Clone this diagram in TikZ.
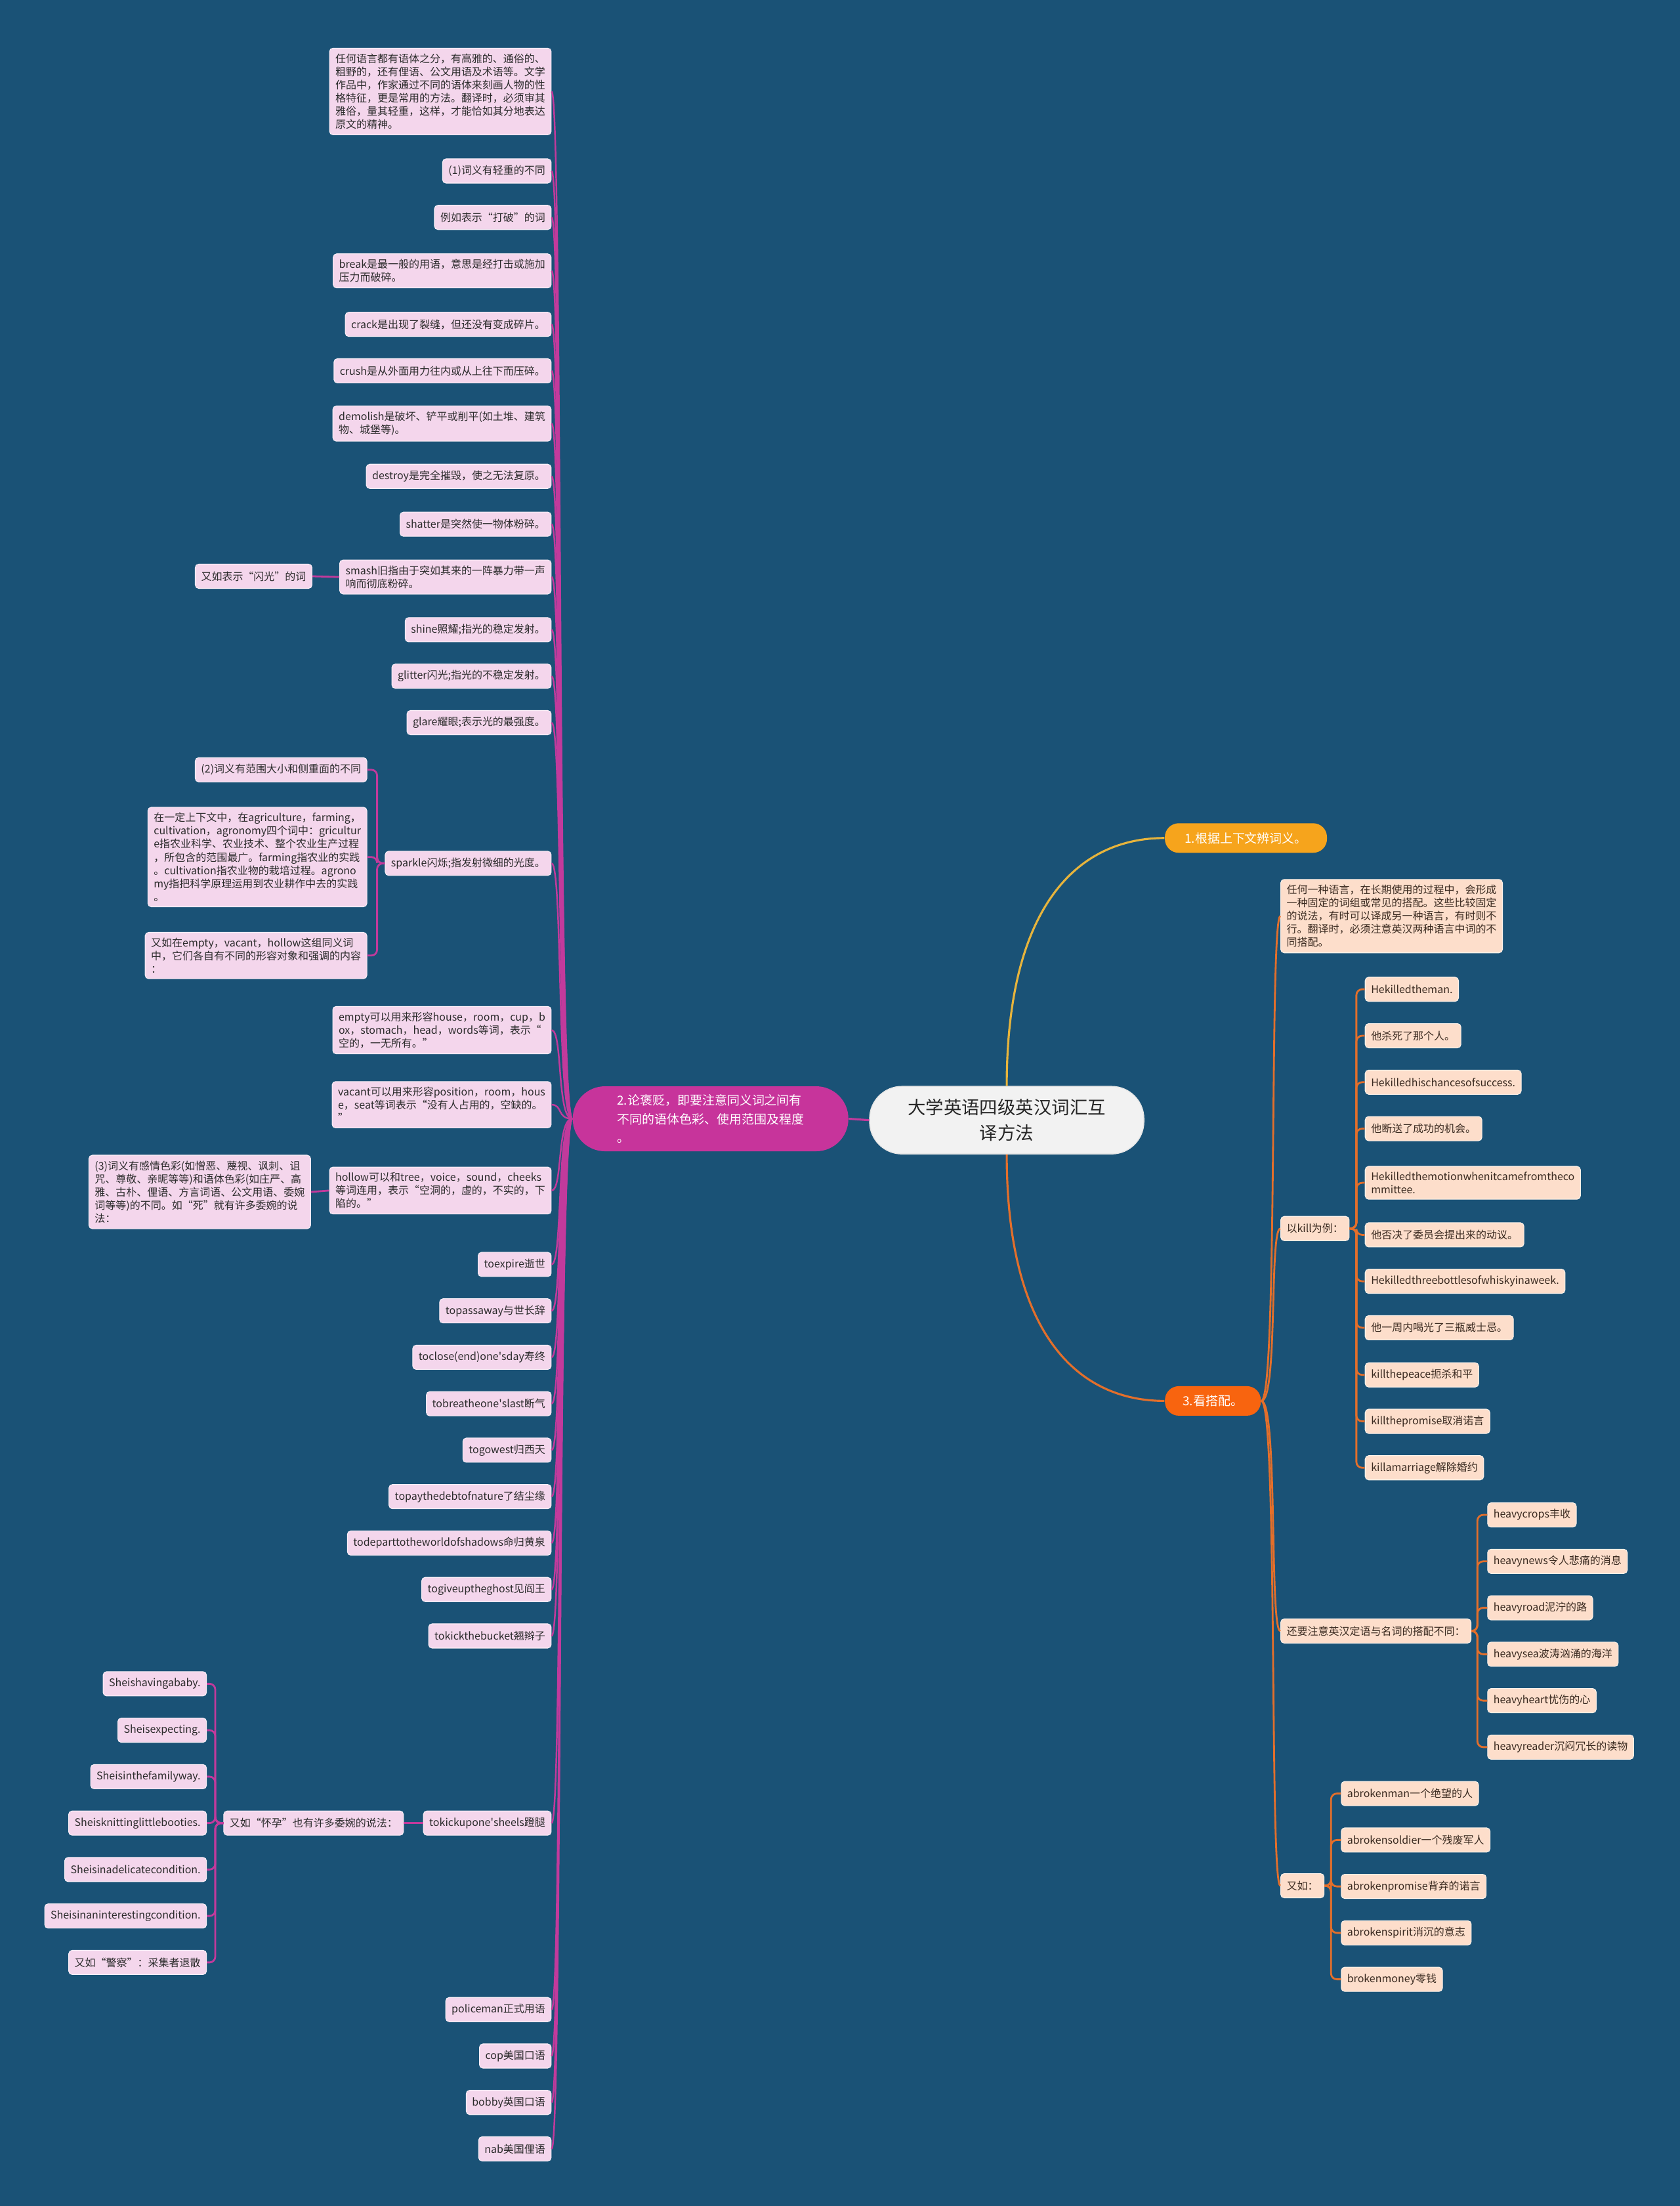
\documentclass[tikz,border=0pt]{standalone}
\usepackage{fontspec}
\setmainfont{Noto Sans CJK SC}
\newfontfamily\apofont{Noto Sans CJK SC}
\newcommand\apo{{\apofont\symbol{39}}}
\usetikzlibrary{calc}
\definecolor{bg}{HTML}{1A5276}
\definecolor{lpink}{HTML}{F4D6EC}
\definecolor{ltext}{HTML}{2B2B2B}
\definecolor{mag}{HTML}{C7349B}
\definecolor{magline}{HTML}{C23A9C}
\definecolor{peach}{HTML}{FDDECB}
\definecolor{rtext}{HTML}{3A2A20}
\definecolor{orline}{HTML}{E36F2B}
\definecolor{ornode}{HTML}{F8640F}
\definecolor{gold}{HTML}{F6A41C}
\definecolor{goldline}{HTML}{E7B43C}
\definecolor{centerfill}{HTML}{F2F2F2}
\begin{document}
\begin{tikzpicture}[x=0.021441cm,y=-0.021441cm,
 leafbase/.style={rounded corners=1.5pt, inner xsep=0.09cm, inner ysep=0.085cm, minimum height=0.37cm, align=left, font=\fontsize{4.55pt}{5.7pt}\selectfont},
 lleaf/.style={leafbase, fill=lpink, draw=white!60!lpink, line width=0.3pt, text=ltext, anchor=east},
 rleaf/.style={leafbase, fill=peach, draw=white!60!peach, line width=0.3pt, text=rtext, anchor=west},
 mcurve/.style={draw=magline, line width=0.7pt},
 melbow/.style={draw=magline, line width=0.8pt, rounded corners=2.5pt},
 ocurve/.style={draw=orline, line width=0.8pt},
 oelbow/.style={draw=orline, line width=0.8pt, rounded corners=2.5pt},
 mainfont/.style={font=\fontsize{5.4pt}{8.2pt}\selectfont}
]
\useasboundingbox (0,0) rectangle (1194,1567.6);
\fill[bg] (0,0) rectangle (1194,1567.6);

% center and main branches
\node[fill=centerfill, draw=white!80!gray, line width=0.4pt, rounded corners=14pt, minimum width=4.18cm, minimum height=1.03cm, align=center, text=black!85, font=\fontsize{7.8pt}{11pt}\selectfont] (c) at (715.5,796) {大学英语四级英汉词汇互\\译方法};
\node[fill=mag, rounded corners=14pt, minimum width=4.2cm, minimum height=0.99cm, align=left, text=white, mainfont] (n2) at (505,795) {2.论褒贬，即要注意同义词之间有\\不同的语体色彩、使用范围及程度\\。};
\node[fill=gold, rounded corners=6pt, minimum width=2.47cm, minimum height=0.45cm, text=white, mainfont] (n1) at (885.5,595.5) {1.根据上下文辨词义。};
\node[fill=ornode, rounded corners=6pt, minimum width=1.46cm, minimum height=0.45cm, text=white, mainfont] (n3) at (862,995.5) {3.看搭配。};

\draw[draw=goldline, line width=0.9pt] (c.north) .. controls +(0,-130) and +(-60,0) .. (n1.west);
\draw[draw=orline, line width=0.9pt] (c.south) .. controls +(0,130) and +(-60,0) .. (n3.west);
\draw[draw=magline, line width=0.9pt] (c.west) -- (n2.east);

% left children
\node[lleaf] (p1) at (392,65) {任何语言都有语体之分，有高雅的、通俗的、\\粗野的，还有俚语、公文用语及术语等。文学\\作品中，作家通过不同的语体来刻画人物的性\\格特征，更是常用的方法。翻译时，必须审其\\雅俗，量其轻重，这样，才能恰如其分地表达\\原文的精神。};
\node[lleaf] (l2) at (392,121.5) {(1)词义有轻重的不同};
\node[lleaf] (l3) at (392,154.5) {例如表示“打破”的词};
\node[lleaf] (l4) at (392,192.5) {break是最一般的用语，意思是经打击或施加\\压力而破碎。};
\node[lleaf] (l5) at (392,230.5) {crack是出现了裂缝，但还没有变成碎片。};
\node[lleaf] (l6) at (392,263.5) {crush是从外面用力往内或从上往下而压碎。};
\node[lleaf] (l7) at (392,301) {demolish是破坏、铲平或削平(如土堆、建筑\\物、城堡等)。};
\node[lleaf] (l8) at (392,338.5) {destroy是完全摧毁，使之无法复原。};
\node[lleaf] (l9) at (392,372.5) {shatter是突然使一物体粉碎。};
\node[lleaf] (l10) at (392,410) {smash旧指由于突如其来的一阵暴力带一声\\响而彻底粉碎。};
\node[lleaf] (l11) at (392,447.5) {shine照耀;指光的稳定发射。};
\node[lleaf] (l12) at (392,480.5) {glitter闪光;指光的不稳定发射。};
\node[lleaf] (l13) at (392,513.5) {glare耀眼;表示光的最强度。};
\node[lleaf] (l14) at (392,613.5) {sparkle闪烁;指发射微细的光度。};
\node[lleaf] (l15) at (392,732) {empty可以用来形容house，room，cup，b\\ox，stomach，head，words等词，表示“\\空的，一无所有。”};
\node[lleaf] (l16) at (392,785) {vacant可以用来形容position，room，hous\\e，seat等词表示“没有人占用的，空缺的。\\”};
\node[lleaf] (l17) at (392,846) {hollow可以和tree，voice，sound，cheeks\\等词连用，表示“空洞的，虚的，不实的，下\\陷的。”};
\node[lleaf] (l18) at (392,898.5) {toexpire逝世};
\node[lleaf] (l19) at (392,931.5) {topassaway与世长辞};
\node[lleaf] (l20) at (392,964.5) {toclose(end)one\apo sday寿终};
\node[lleaf] (l21) at (392,997.5) {tobreatheone\apo slast断气};
\node[lleaf] (l22) at (392,1030.5) {togowest归西天};
\node[lleaf] (l23) at (392,1063.5) {topaythedebtofnature了结尘缘};
\node[lleaf] (l24) at (392,1096.5) {todeparttotheworldofshadows命归黄泉};
\node[lleaf] (l25) at (392,1129.5) {togiveuptheghost见阎王};
\node[lleaf] (l26) at (392,1162.5) {tokickthebucket翘辫子};
\node[lleaf] (l27) at (392,1295.5) {tokickupone\apo sheels蹬腿};
\node[lleaf] (l28) at (392,1428) {policeman正式用语};
\node[lleaf] (l29) at (392,1461) {cop美国口语};
\node[lleaf] (l30) at (392,1494) {bobby英国口语};
\node[lleaf] (l31) at (392,1527) {nab美国俚语};

\foreach \n in {p1,l2,l3,l4,l5,l6,l7,l8,l9,l10,l11,l12,l13,l14,l15,l16,l17,l18,l19,l20,l21,l22,l23,l24,l25,l26,l27,l28,l29,l30,l31}
  \draw[mcurve] (n2.west) .. controls +(-11,0) and +(8,0) .. (\n.east);

% left grandchildren
\node[lleaf] (fl) at (222,409.5) {又如表示“闪光”的词};
\draw[magline, line width=0.8pt] (l10.west) -- (fl.east);

\node[lleaf] (s1) at (261,547) {(2)词义有范围大小和侧重面的不同};
\node[lleaf] (s2) at (261,609) {在一定上下文中，在agriculture，farming，\\cultivation，agronomy四个词中：gricultur\\e指农业科学、农业技术、整个农业生产过程\\，所包含的范围最广。farming指农业的实践\\。cultivation指农业物的栽培过程。agrono\\my指把科学原理运用到农业耕作中去的实践\\。};
\node[lleaf] (s3) at (261,679) {又如在empty，vacant，hollow这组同义词\\中，它们各自有不同的形容对象和强调的内容\\：};
\coordinate (tsp) at (268,613.5);
\foreach \n in {s1,s2,s3} \draw[melbow] (l14.west) -- (tsp) |- (\n.east);

\node[lleaf] (h1) at (221,847) {(3)词义有感情色彩(如憎恶、蔑视、讽刺、诅\\咒、尊敬、亲昵等等)和语体色彩(如庄严、高\\雅、古朴、俚语、方言词语、公文用语、委婉\\词等等)的不同。如“死”就有许多委婉的说\\法：};
\draw[magline, line width=0.8pt] (l17.west) -- (h1.east);

\node[lleaf] (pg) at (287,1295.5) {又如“怀孕”也有许多委婉的说法：};
\draw[magline, line width=0.8pt] (l27.west) -- (pg.east);
\node[lleaf] (sh1) at (147,1196.5) {Sheishavingababy.};
\node[lleaf] (sh2) at (147,1229.5) {Sheisexpecting.};
\node[lleaf] (sh3) at (147,1262.5) {Sheisinthefamilyway.};
\node[lleaf] (sh4) at (147,1295.5) {Sheisknittinglittlebooties.};
\node[lleaf] (sh5) at (147,1328.5) {Sheisinadelicatecondition.};
\node[lleaf] (sh6) at (147,1361.5) {Sheisinaninterestingcondition.};
\node[lleaf] (sh7) at (147,1394.5) {又如“警察”：采集者退散};
\coordinate (tpg) at (153,1295.5);
\foreach \n in {sh1,sh2,sh3,sh4,sh5,sh6,sh7} \draw[melbow] (pg.west) -- (tpg) |- (\n.east);

% right side
\node[rleaf] (rp) at (910,651) {任何一种语言，在长期使用的过程中，会形成\\一种固定的词组或常见的搭配。这些比较固定\\的说法，有时可以译成另一种语言，有时则不\\行。翻译时，必须注意英汉两种语言中词的不\\同搭配。};
\node[rleaf] (kl) at (910,873) {以kill为例：};
\node[rleaf] (hv) at (910,1159) {还要注意英汉定语与名词的搭配不同：};
\node[rleaf] (yr) at (910,1340) {又如：};
\foreach \n in {rp,kl,hv,yr}
  \draw[ocurve] (n3.east) .. controls +(12,0) and +(-8,0) .. (\n.west);

\node[rleaf] (k1) at (970,703) {Hekilledtheman.};
\node[rleaf] (k2) at (970,736) {他杀死了那个人。};
\node[rleaf] (k3) at (970,769) {Hekilledhischancesofsuccess.};
\node[rleaf] (k4) at (970,802) {他断送了成功的机会。};
\node[rleaf] (k5) at (970,840.5) {Hekilledthemotionwhenitcamefromtheco\\mmittee.};
\node[rleaf] (k6) at (970,877.5) {他否决了委员会提出来的动议。};
\node[rleaf] (k7) at (970,910.5) {Hekilledthreebottlesofwhiskyinaweek.};
\node[rleaf] (k8) at (970,943.5) {他一周内喝光了三瓶威士忌。};
\node[rleaf] (k9) at (970,977) {killthepeace扼杀和平};
\node[rleaf] (k10) at (970,1010) {killthepromise取消诺言};
\node[rleaf] (k11) at (970,1043) {killamarriage解除婚约};
\coordinate (tkl) at (964,873);
\foreach \n in {k1,k2,k3,k4,k5,k6,k7,k8,k9,k10,k11} \draw[oelbow] (kl.east) -- (tkl) |- (\n.west);

\node[rleaf] (v1) at (1057,1076.5) {heavycrops丰收};
\node[rleaf] (v2) at (1057,1109.5) {heavynews令人悲痛的消息};
\node[rleaf] (v3) at (1057,1142.5) {heavyroad泥泞的路};
\node[rleaf] (v4) at (1057,1175.5) {heavysea波涛汹涌的海洋};
\node[rleaf] (v5) at (1057,1208.5) {heavyheart忧伤的心};
\node[rleaf] (v6) at (1057,1241.5) {heavyreader沉闷冗长的读物};
\coordinate (thv) at (1050,1159);
\foreach \n in {v1,v2,v3,v4,v5,v6} \draw[oelbow] (hv.east) -- (thv) |- (\n.west);

\node[rleaf] (b1) at (953,1274.5) {abrokenman一个绝望的人};
\node[rleaf] (b2) at (953,1307.5) {abrokensoldier一个残废军人};
\node[rleaf] (b3) at (953,1340.5) {abrokenpromise背弃的诺言};
\node[rleaf] (b4) at (953,1373.5) {abrokenspirit消沉的意志};
\node[rleaf] (b5) at (953,1406.5) {brokenmoney零钱};
\coordinate (tyr) at (946,1340);
\foreach \n in {b1,b2,b3,b4,b5} \draw[oelbow] (yr.east) -- (tyr) |- (\n.west);
\end{tikzpicture}
\end{document}
